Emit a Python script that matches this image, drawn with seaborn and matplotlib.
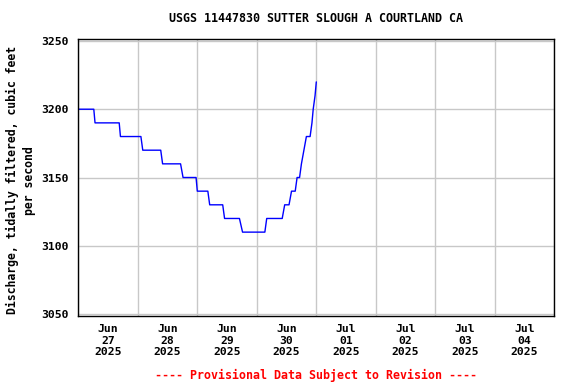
import matplotlib
matplotlib.use('Agg')
import matplotlib.pyplot as plt
import pandas as pd
import seaborn as sns

# step changes (15-minute record)
times = ['2025-06-27 00:00', '2025-06-27 06:15', '2025-06-27 06:45', '2025-06-27 16:30',
         '2025-06-27 17:00', '2025-06-28 01:15', '2025-06-28 02:00', '2025-06-28 09:15',
         '2025-06-28 10:00', '2025-06-28 17:15', '2025-06-28 18:15', '2025-06-28 23:30',
         '2025-06-29 00:00', '2025-06-29 04:15', '2025-06-29 05:00', '2025-06-29 10:15',
         '2025-06-29 11:00', '2025-06-29 17:00', '2025-06-29 18:15', '2025-06-30 03:15',
         '2025-06-30 04:00', '2025-06-30 10:15', '2025-06-30 11:15', '2025-06-30 13:00',
         '2025-06-30 14:00', '2025-06-30 15:30', '2025-06-30 16:15', '2025-06-30 17:15',
         '2025-06-30 18:00', '2025-06-30 19:00', '2025-06-30 20:00', '2025-06-30 21:30',
         '2025-06-30 22:15', '2025-06-30 22:45', '2025-06-30 23:30', '2025-07-01 00:00']
discharge = [3200, 3200, 3190, 3190,
             3180, 3180, 3170, 3170,
             3160, 3160, 3150, 3150,
             3140, 3140, 3130, 3130,
             3120, 3120, 3110, 3110,
             3120, 3120, 3130, 3130,
             3140, 3140, 3150, 3150,
             3160, 3170, 3180, 3180,
             3190, 3200, 3210, 3220]

label_days = ['2025-06-27', '2025-06-28', '2025-06-29', '2025-06-30',
              '2025-07-01', '2025-07-02', '2025-07-03', '2025-07-04']
y_ticks = [3050, 3100, 3150, 3200, 3250]

df = pd.DataFrame({'time': pd.to_datetime(times), 'discharge': discharge})

sns.set_style('white')
plt.rcParams['font.family'] = ['DejaVu Sans Mono']
plt.rcParams['font.weight'] = 'bold'
plt.rcParams['font.size'] = 8
plt.rcParams['text.color'] = 'black'
plt.rcParams['axes.labelcolor'] = 'black'

fig = plt.figure(figsize=(5.76, 3.84), dpi=100)
ax = fig.add_axes([78.3 / 576, 1 - 315.7 / 384, (554.3 - 78.3) / 576, (315.7 - 39.3) / 384])

sns.lineplot(data=df, x='time', y='discharge', ax=ax, color='#0000ff', linewidth=1, estimator=None)

days = pd.to_datetime(label_days)
noons = days + pd.Timedelta(hours=12)
midnights = pd.date_range(days[0], days[-1] + pd.Timedelta(days=1), freq='D')
ax.set_xlim(midnights[0], midnights[-1])
ax.set_xticks(noons)
ax.set_xticklabels([d.strftime('%b\n%d\n%Y') for d in days])
ax.set_xticks(midnights, minor=True)
ax.set_ylim(3048.8, 3251.2)
ax.set_yticks(y_ticks)
ax.set_yticklabels([str(v) for v in y_ticks])

ax.grid(False)
ax.grid(True, which='minor', axis='x', color='#c8c8c8', linewidth=1)
ax.grid(True, which='major', axis='y', color='#c8c8c8', linewidth=1)
ax.tick_params(axis='both', which='both', length=0, labelsize=8.2, colors='black')
ax.tick_params(axis='x', pad=6)
ax.tick_params(axis='y', pad=7)
for s in ax.spines.values():
    s.set_color('black')
    s.set_linewidth(1)

ax.set_xlabel('')
ax.set_ylabel('Discharge, tidally filtered, cubic feet\nper second', fontsize=8.3,
              fontweight='bold', linespacing=1.4, labelpad=4, color='black')
ax.yaxis.label.set_y(0.49)

fig.text(316 / 576, 1 - 19 / 384, 'USGS 11447830 SUTTER SLOUGH A COURTLAND CA',
         ha='center', va='center', fontsize=8.4, fontweight='bold', color='black')
fig.text(316 / 576, 1 - 375 / 384, '---- Provisional Data Subject to Revision ----',
         ha='center', va='center', fontsize=8.4, fontweight='bold', color='red')

fig.savefig('out.png', dpi=100)
